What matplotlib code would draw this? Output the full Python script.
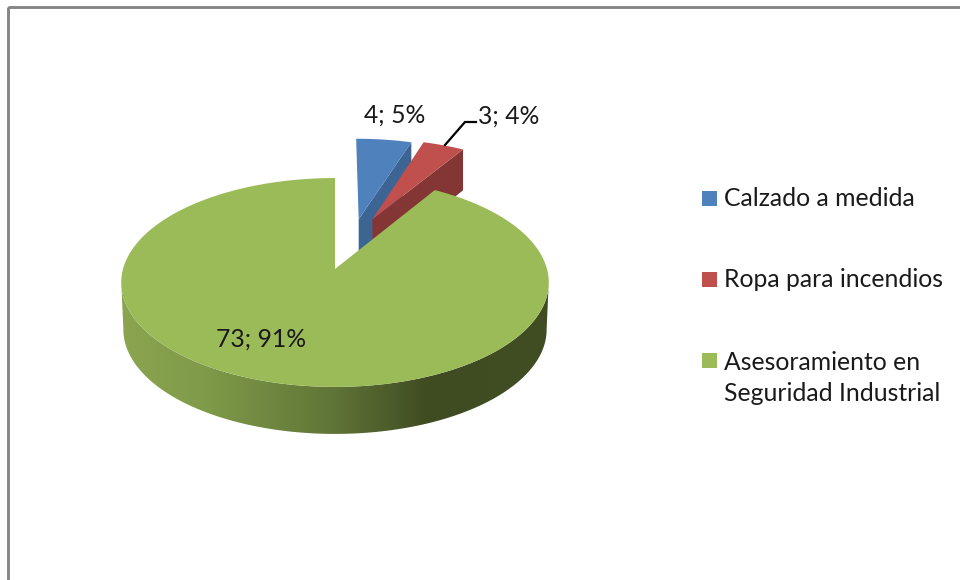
import numpy as np
import matplotlib
matplotlib.use('Agg')
import matplotlib.pyplot as plt
from matplotlib.colors import LinearSegmentedColormap
from matplotlib.patches import Polygon, Rectangle

categories = ['Calzado a medida', 'Ropa para incendios', 'Asesoramiento en\nSeguridad Industrial']
values = [4, 3, 73]

colors = ['#4f81bd', '#c0504d', '#9bbb59']
side_colors = ['#3c6594', '#843634', None]

# layout of the fake 3d disc, in pixels
cx, cy = 335, 269
rx, ry = 212, 102.7
k = 0.129
explode = [0.53, 0.55, 0.0]
explode_dir = [13, 20, 0]
wall = [48, 48, 47]


def project(u, v, grow=1.0):
    d = 1 + k * v
    return cx + rx * u / d, cy - ry * v / d


def slice_points(t0, t1, du, dv):
    t = np.radians(np.linspace(t0, t1, 200))
    x, y = project(du + np.sin(t), dv + np.cos(t))
    ax0, ay0 = project(du, dv)
    return np.r_[ax0, x], np.r_[ay0, y]


plt.rcParams['font.family'] = ['Lato', 'DejaVu Sans']
fig = plt.figure(figsize=(9.6, 5.8), dpi=100)
ax = fig.add_axes([0, 0, 1, 1])
ax.set_axis_off()

ax.add_patch(Rectangle((8, 7), 1000, 1000, fill=False, ec='#868686', lw=2.1))

total = sum(values)
angles = np.r_[0, np.cumsum(values) / total * 360]

# exploded slices: inner wall then top
for i in [0, 1]:
    a = np.radians(explode_dir[i])
    du, dv = explode[i] * np.sin(a), explode[i] * np.cos(a)
    t = np.radians(angles[i + 1])
    x0, y0 = project(du, dv)
    x1, y1 = project(du + np.sin(t), dv + np.cos(t))
    d0 = wall[i] / (1 + k * dv)
    d1 = wall[i] / (1 + k * (dv + np.cos(t)))
    ax.fill([x0, x1, x1, x0], [y0, y1, y1 + d1, y0 + d0], color=side_colors[i], lw=0)
    x, y = slice_points(angles[i], angles[i + 1], du, dv)
    ax.fill(x, y, color=colors[i], lw=0)

# wall of the big slice with the gradient
t = np.radians(np.linspace(97, 263, 300))
tx, ty = project(np.sin(t), np.cos(t))
bx = cx + (tx - cx) * 0.99
by = ty + wall[2]
shape = Polygon(np.c_[np.r_[tx, bx[::-1]], np.r_[ty, by[::-1]]], closed=True, fc='none', ec='none')
ax.add_patch(shape)
cmap = LinearSegmentedColormap.from_list('side', [(0, '#8ba550'), (0.2, '#7f9a49'), (0.5, '#5f7437'),
                                                  (0.72, '#3f4b21'), (1, '#414e23')])
im = ax.imshow(np.linspace(0, 1, 256)[None, :], cmap=cmap, aspect='auto', extent=(tx.min(), tx.max(), 450, 270))
im.set_clip_path(shape)

x, y = slice_points(angles[2], angles[3], 0, 0)
ax.fill(x, y, color=colors[2], lw=0)

ax.set_xlim(0, 960)
ax.set_ylim(580, 0)

# labels
fs = 17.8
labels = [f'{v}; {round(v / total * 100)}%' for v in values]
ax.text(395, 115, labels[0], fontsize=fs, ha='center', va='center', color='#1a1a1a')
ax.text(509, 116, labels[1], fontsize=fs, ha='center', va='center', color='#1a1a1a')
ax.text(261, 339, labels[2], fontsize=fs, ha='center', va='center', color='#1a1a1a')
ax.plot([445, 465, 476], [145, 122, 122], color='black', lw=1.6, solid_joinstyle='miter')

# legend, baseline of a multi line text is its last line
legend_y = [206, 287, 368]
for cat, col, ly in zip(categories, colors, legend_y):
    ax.add_patch(Rectangle((702, ly - 15), 15, 15, fc=col, ec='none'))
    ax.text(724, ly + 33 * cat.count('\n'), cat, fontsize=fs, ha='left', va='baseline',
            color='#1a1a1a', linespacing=1.43)

fig.savefig('out.png', dpi=100, facecolor='white')
